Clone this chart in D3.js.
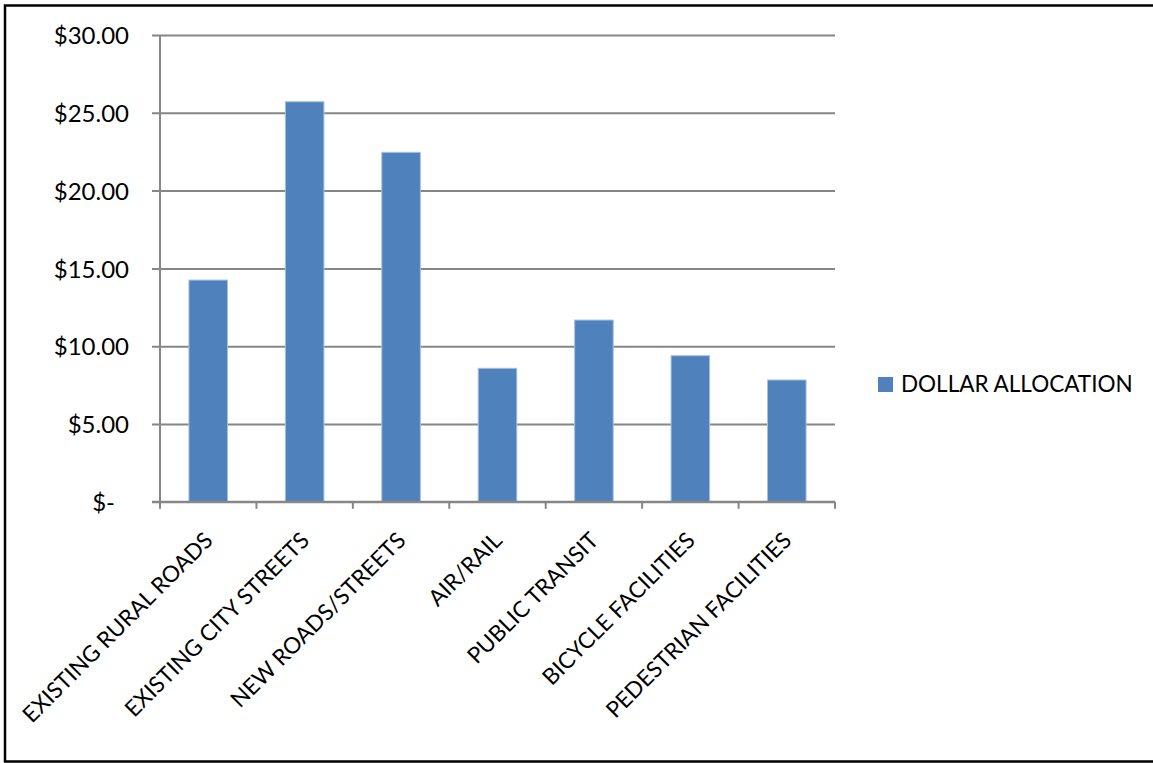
<!DOCTYPE html>
<html>
<head>
<meta charset="utf-8">
<script src="https://cdn.jsdelivr.net/npm/d3@7"></script>
<style>
  html, body { margin: 0; padding: 0; background: #fff; }
  svg { display: block; }
  text { font-family: Lato, "Open Sans", sans-serif; fill: #000; }
</style>
</head>
<body>
<svg id="chart" width="1153" height="763"></svg>
<script>
const categories = [
  "EXISTING RURAL ROADS",
  "EXISTING CITY STREETS",
  "NEW ROADS/STREETS",
  "AIR/RAIL",
  "PUBLIC TRANSIT",
  "BICYCLE FACILITIES",
  "PEDESTRIAN FACILITIES"
];
const dollarAllocation = [14.25, 25.71, 22.46, 8.58, 11.68, 9.39, 7.83];
const yTicks = [0, 5, 10, 15, 20, 25, 30];
const seriesName = "DOLLAR ALLOCATION";

const svg = d3.select("#chart");

// outer frame
svg.append("rect")
  .attr("x", 5).attr("y", 5.5)
  .attr("width", 1160).attr("height", 756)
  .attr("fill", "#fff").attr("stroke", "#000").attr("stroke-width", 2.5);

const plot = { left: 160, right: 835, top: 35, bottom: 501.8 };

const x = d3.scaleBand().domain(categories).range([plot.left, plot.right])
  .paddingInner(0.6).paddingOuter(0.3);
const xb = d3.scaleBand().domain(categories).range([plot.left, plot.right]).padding(0);
const y = d3.scaleLinear().domain([0, 30]).range([plot.bottom, plot.top]);

const fmt = v => v === 0 ? "$-" : "$" + d3.format(".2f")(v);

// gridlines + y ticks
const yAxis = d3.axisLeft(y).tickValues(yTicks).tickFormat(fmt)
  .tickSize(-(plot.right - plot.left)).tickSizeOuter(0).tickPadding(0);
const gy = svg.append("g").attr("transform", `translate(${plot.left},0)`).call(yAxis);
gy.select(".domain").remove();
gy.selectAll(".tick line").attr("stroke", "#868686").attr("stroke-width", 2)
  .attr("x1", -8);
gy.selectAll(".tick text")
  .attr("x", d => d === 0 ? -45 : -31)
  .attr("dy", "0.36em")
  .attr("font-size", 24)
  .attr("text-anchor", "end");

// y axis line
svg.append("line")
  .attr("x1", plot.left).attr("x2", plot.left)
  .attr("y1", plot.top).attr("y2", plot.bottom)
  .attr("stroke", "#868686").attr("stroke-width", 2);

// bars
svg.append("g").selectAll("rect").data(categories).join("rect")
  .attr("x", d => x(d))
  .attr("width", x.bandwidth())
  .attr("y", (d, i) => y(dollarAllocation[i]))
  .attr("height", (d, i) => plot.bottom - y(dollarAllocation[i]))
  .attr("fill", "#4F81BD")
  .attr("stroke", "#A7C0DE").attr("stroke-width", 1);

// x axis
const xAxis = d3.axisBottom(xb).tickSize(0).tickFormat("");
const gx = svg.append("g").attr("transform", `translate(0,${plot.bottom})`).call(xAxis);
gx.select(".domain").attr("stroke", "#868686").attr("stroke-width", 2)
  .attr("d", `M${plot.left - 8},0H${plot.right}`);
const bounds = categories.map(c => xb(c)).concat([plot.right]);
gx.selectAll(".bnd").data(bounds).join("line").attr("class", "bnd")
  .attr("x1", d => d).attr("x2", d => d).attr("y1", 0).attr("y2", 7)
  .attr("stroke", "#868686").attr("stroke-width", 2);

// x labels rotated
svg.append("g").selectAll("text").data(categories).join("text")
  .attr("transform", d => `translate(${xb(d) + xb.bandwidth() / 2 + 6},${plot.bottom + 40}) rotate(-45)`)
  .attr("text-anchor", "end")
  .attr("font-size", 22.5)
  .text(d => d);

// legend
const lg = svg.append("g").attr("transform", "translate(878,377)");
lg.append("rect").attr("width", 15).attr("height", 15).attr("fill", "#4F81BD");
lg.append("text").attr("x", 23).attr("y", 15).attr("font-size", 22.5).text(seriesName);
</script>
</body>
</html>
